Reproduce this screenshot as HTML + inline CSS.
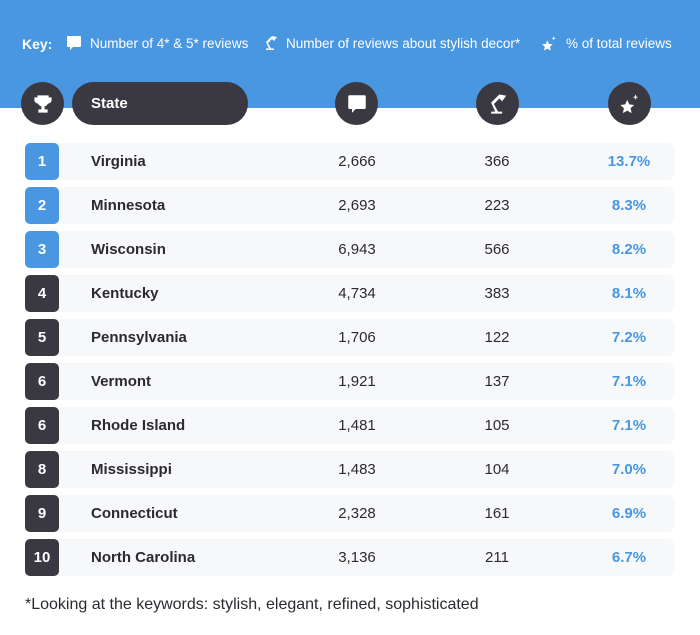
<!DOCTYPE html>
<html><head><meta charset="utf-8"><style>
body{margin:0;width:700px;height:635px;background:#fff;font-family:"Liberation Sans",sans-serif;position:relative;overflow:hidden}
.band{position:absolute;left:0;top:0;width:700px;height:108px;background:#4897e0}
.k{position:absolute;top:36px;color:#fff;font-size:13.5px;white-space:nowrap;line-height:16px}
.ki{position:absolute;top:35px}
.circ{position:absolute;top:82px;width:43px;height:43px;border-radius:50%;background:#3a3841;display:flex;align-items:center;justify-content:center}
.pill{position:absolute;top:82px;left:72px;width:176px;height:43px;border-radius:22px;background:#3a3841;color:#fff;font-weight:bold;font-size:15px;line-height:43px;box-sizing:border-box;padding-left:19px}
.row{position:absolute;left:25px;width:650px;height:37px;background:#f7f8fa;border-radius:8px}
.rank{position:absolute;left:0;top:0;width:34px;height:37px;border-radius:5px;color:#fff;font-size:15px;font-weight:bold;text-align:center;line-height:37px}
.cell{position:absolute;top:0;line-height:37px;font-size:15px;color:#2b2a30}
.foot{position:absolute;left:25px;top:596px;font-size:16px;color:#2b2a30}
</style></head><body>
<div class="band"></div>
<div class="k" style="left:22px;font-weight:bold;font-size:14px">Key:</div>
<svg class="ki" style="left:66px" width="16" height="16" viewBox="0 0 16 16"><path d="M2 1h12a1 1 0 0 1 1 1v9a1 1 0 0 1-1 1H7l-3 3v-3H2a1 1 0 0 1-1-1V2a1 1 0 0 1 1-1z" fill="#fff"/></svg>
<div class="k" style="left:90px">Number of 4* &amp; 5* reviews</div>
<svg class="ki" style="left:263px" width="16" height="16" viewBox="0 0 16 16"><path d="M3 15h8v-1.5H8L5 8l4-4 2 2 3-4-5-1-2 2L3 7l3 6.5H3z" fill="#fff"/></svg>
<div class="k" style="left:286px">Number of reviews about stylish decor*</div>
<svg class="ki" style="left:541px" width="17" height="17" viewBox="0 0 16 16"><path d="M6 5l1.5 3.3 3.5.4-2.6 2.4.8 3.5L6 12.8 2.8 14.6l.8-3.5L1 8.7l3.5-.4z M12 1l.6 1.6L14 3l-1.4.5L12 5l-.6-1.5L10 3l1.4-.4z" fill="#fff"/></svg>
<div class="k" style="left:566px">% of total reviews</div>
<div class="circ" style="left:21px"><svg width="20" height="20" viewBox="0 0 20 20"><path d="M5 2h10v5a5 5 0 0 1-10 0z M5 4H2v2a3 3 0 0 0 3 3 M15 4h3v2a3 3 0 0 1-3 3 M9 12h2v4H9z M6 16h8v2H6z" fill="#fff" stroke="#fff" stroke-width="1.2"/></svg></div>
<div class="pill">State</div>
<div class="circ" style="left:335px"><svg width="20" height="20" viewBox="0 0 16 16"><path d="M2 1h12a1 1 0 0 1 1 1v9a1 1 0 0 1-1 1H7l-3 3v-3H2a1 1 0 0 1-1-1V2a1 1 0 0 1 1-1z" fill="#fff"/></svg></div>
<div class="circ" style="left:476px"><svg width="22" height="22" viewBox="0 0 16 16"><path d="M3 15h8v-1.5H8L5 8l4-4 2 2 3-4-5-1-2 2L3 7l3 6.5H3z" fill="#fff"/></svg></div>
<div class="circ" style="left:608px"><svg width="22" height="22" viewBox="0 0 16 16"><path d="M6 5l1.5 3.3 3.5.4-2.6 2.4.8 3.5L6 12.8 2.8 14.6l.8-3.5L1 8.7l3.5-.4z M12 1l.6 1.6L14 3l-1.4.5L12 5l-.6-1.5L10 3l1.4-.4z" fill="#fff"/></svg></div>
<div id="rows"></div>
<div class="foot">*Looking at the keywords: stylish, elegant, refined, sophisticated</div>
<script>
const ranks=["1","2","3","4","5","6","6","8","9","10"];
const states=["Virginia","Minnesota","Wisconsin","Kentucky","Pennsylvania","Vermont","Rhode Island","Mississippi","Connecticut","North Carolina"];
const reviews=[2666,2693,6943,4734,1706,1921,1481,1483,2328,3136];
const decor=[366,223,566,383,122,137,105,104,161,211];
const pct=[13.7,8.3,8.2,8.1,7.2,7.1,7.1,7.0,6.9,6.7];
const host=document.getElementById('rows');
states.forEach((s,i)=>{
  const r=document.createElement('div');
  r.className='row';r.style.top=(143+i*44)+'px';
  
  
  const blue=i<3;
  r.innerHTML=`<div class="rank" style="background:${blue?'#4897e0':'#3a3841'}">${ranks[i]}</div>`+
   `<div class="cell" style="left:66px;font-weight:bold">${s}</div>`+
   `<div class="cell" style="left:282px;width:100px;text-align:center">${reviews[i].toLocaleString('en-US')}</div>`+
   `<div class="cell" style="left:422px;width:100px;text-align:center">${decor[i]}</div>`+
   `<div class="cell" style="left:554px;width:100px;text-align:center;font-weight:bold;color:#4897e0">${pct[i].toFixed(1)}%</div>`;
  host.appendChild(r);
});
</script>
</body></html>
